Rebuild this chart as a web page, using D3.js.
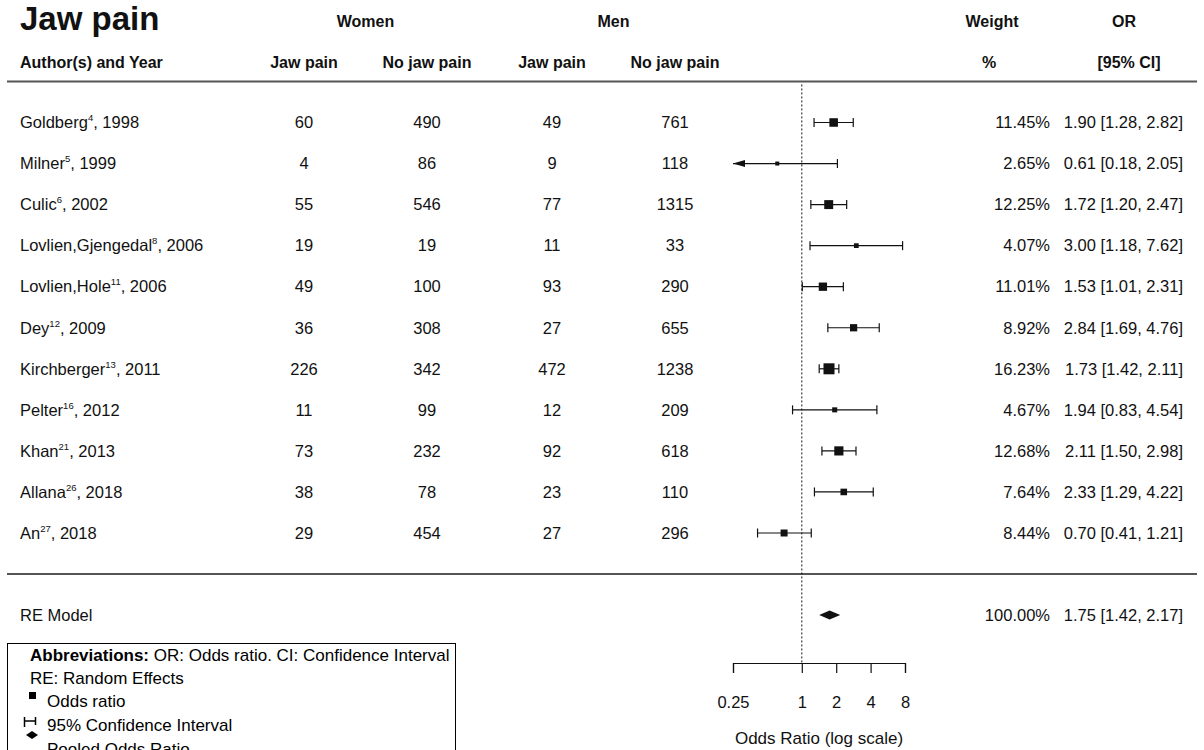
<!DOCTYPE html>
<html><head><meta charset="utf-8">
<script src="https://cdn.jsdelivr.net/npm/d3@7"></script>
<style>
body{margin:0;background:#fff;}
svg{display:block;font-family:"Liberation Sans",Arial,Helvetica,sans-serif;}
</style></head><body>
<svg id="chart" width="1204" height="750"></svg>
<script>
// ---- data ----
const authors = ["Goldberg","Milner","Culic","Lovlien,Gjengedal","Lovlien,Hole","Dey","Kirchberger","Pelter","Khan","Allana","An"];
const refs = ["4","5","6","8","11","12","13","16","21","26","27"];
const years = [1998,1999,2002,2006,2006,2009,2011,2012,2013,2018,2018];
const womenJaw = [60,4,55,19,49,36,226,11,73,38,29];
const womenNoJaw = [490,86,546,19,100,308,342,99,232,78,454];
const menJaw = [49,9,77,11,93,27,472,12,92,23,27];
const menNoJaw = [761,118,1315,33,290,655,1238,209,618,110,296];
const weights = [11.45,2.65,12.25,4.07,11.01,8.92,16.23,4.67,12.68,7.64,8.44];
const orEst = [1.90,0.61,1.72,3.00,1.53,2.84,1.73,1.94,2.11,2.33,0.70];
const orLo = [1.28,0.18,1.20,1.18,1.01,1.69,1.42,0.83,1.50,1.29,0.41];
const orHi = [2.82,2.05,2.47,7.62,2.31,4.76,2.11,4.54,2.98,4.22,1.21];
const pooledLabel = "RE Model";
const pooledWeight = 100.00;
const pooledEst = 1.75, pooledLo = 1.42, pooledHi = 2.17;
const tickValues = [0.25,1,2,4,8];
const tickLabels = ["0.25","1","2","4","8"];

// ---- layout ----
const svg = d3.select("#chart");
const ink = "#111";
const x = d3.scaleLog().base(2).domain([0.25, 8]).range([733, 905]);
const y = d3.scaleLinear().domain([0, 1]).range([122.5, 163.55]);
const sz = d3.scaleLinear().domain(d3.extent(weights)).range([4, 11]);
const fs = 16.5;
const colWJ = 304, colWN = 427, colMJ = 552, colMN = 675, colW = 1050, colOR = 1183;

// headers
svg.append("text").attr("x", 20).attr("y", 30).attr("font-size", 33).attr("font-weight", "bold").attr("fill", ink).text("Jaw pain");
const hdr = (t, xx, yy, anchor) => svg.append("text").attr("x", xx).attr("y", yy).attr("font-size", 16).attr("font-weight", "bold")
  .attr("fill", ink).attr("text-anchor", anchor || "middle").text(t);
hdr("Women", (colWJ + colWN) / 2, 27);
hdr("Men", (colMJ + colMN) / 2, 27);
hdr("Weight", 992, 27);
hdr("OR", 1124, 27);
hdr("Author(s) and Year", 20, 68, "start");
hdr("Jaw pain", colWJ, 68);
hdr("No jaw pain", colWN, 68);
hdr("Jaw pain", colMJ, 68);
hdr("No jaw pain", colMN, 68);
hdr("%", 989, 68);
hdr("[95% CI]", 1129, 68);

// separator lines
svg.append("line").attr("x1", 7).attr("x2", 1197).attr("y1", y(-1)).attr("y2", y(-1)).attr("stroke", "#555").attr("stroke-width", 2);
svg.append("line").attr("x1", 7).attr("x2", 1197).attr("y1", y(11)).attr("y2", y(11)).attr("stroke", "#555").attr("stroke-width", 2);

// reference line at OR = 1
svg.append("line").attr("x1", x(1)).attr("x2", x(1)).attr("y1", y(-1) + 3).attr("y2", 663)
  .attr("stroke", ink).attr("stroke-width", 1).attr("stroke-dasharray", "2,2");

// study rows
const rowText = (t, xx, yy, anchor) => svg.append("text").attr("x", xx).attr("y", yy).attr("dy", "0.35em")
  .attr("font-size", fs).attr("fill", ink).attr("text-anchor", anchor).text(t);

authors.forEach((a, i) => {
  const yy = y(i);
  const t = svg.append("text").attr("x", 20).attr("y", yy).attr("dy", "0.35em").attr("font-size", fs).attr("fill", ink);
  t.append("tspan").text(a);
  t.append("tspan").attr("dy", -7).attr("font-size", 9.5).text(refs[i]);
  t.append("tspan").attr("dy", 7).text(", " + years[i]);
  rowText(womenJaw[i], colWJ, yy, "middle");
  rowText(womenNoJaw[i], colWN, yy, "middle");
  rowText(menJaw[i], colMJ, yy, "middle");
  rowText(menNoJaw[i], colMN, yy, "middle");
  rowText(weights[i].toFixed(2) + "%", colW, yy, "end");
  rowText(orEst[i].toFixed(2) + " [" + orLo[i].toFixed(2) + ", " + orHi[i].toFixed(2) + "]", colOR, yy, "end");

  const [d0, d1] = x.domain();
  const lo = Math.max(orLo[i], d0), hi = Math.min(orHi[i], d1);
  const g = svg.append("g").attr("stroke", ink).attr("fill", ink);
  g.append("line").attr("x1", x(lo)).attr("x2", x(hi)).attr("y1", yy).attr("y2", yy).attr("stroke-width", 1.2);
  if (orLo[i] < d0) {
    g.append("path").attr("stroke", "none")
      .attr("d", `M${x(d0)},${yy}L${x(d0) + 12},${yy - 3.5}L${x(d0) + 12},${yy + 3.5}Z`);
  } else {
    g.append("line").attr("x1", x(lo)).attr("x2", x(lo)).attr("y1", yy - 4.5).attr("y2", yy + 4.5).attr("stroke-width", 1.2);
  }
  if (orHi[i] > d1) {
    g.append("path").attr("stroke", "none")
      .attr("d", `M${x(d1)},${yy}L${x(d1) - 12},${yy - 3.5}L${x(d1) - 12},${yy + 3.5}Z`);
  } else {
    g.append("line").attr("x1", x(hi)).attr("x2", x(hi)).attr("y1", yy - 4.5).attr("y2", yy + 4.5).attr("stroke-width", 1.2);
  }
  const s = sz(weights[i]);
  g.append("rect").attr("stroke", "none").attr("x", x(orEst[i]) - s / 2).attr("y", yy - s / 2).attr("width", s).attr("height", s);
});

// pooled row
const yp = y(12);
rowText(pooledLabel, 20, yp, "start");
rowText(pooledWeight.toFixed(2) + "%", colW, yp, "end");
rowText(pooledEst.toFixed(2) + " [" + pooledLo.toFixed(2) + ", " + pooledHi.toFixed(2) + "]", colOR, yp, "end");
svg.append("path").attr("fill", ink)
  .attr("d", `M${x(pooledLo)},${yp}L${x(pooledEst)},${yp - 4.5}L${x(pooledHi)},${yp}L${x(pooledEst)},${yp + 4.5}Z`);

// axis
const axis = d3.axisBottom(x).tickValues(tickValues).tickFormat((d, i) => tickLabels[i])
  .tickSize(10).tickSizeOuter(10).tickPadding(23);
const ag = svg.append("g").attr("transform", "translate(0,663)").call(axis);
ag.selectAll("path,line").attr("stroke", ink).attr("stroke-width", 1.2);
ag.selectAll("text").attr("font-size", fs).attr("fill", ink).attr("font-family", "Liberation Sans,Arial,sans-serif");
svg.append("text").attr("x", (x(0.25) + x(8)) / 2).attr("y", 744).attr("text-anchor", "middle")
  .attr("font-size", 17).attr("fill", ink).text("Odds Ratio (log scale)");

// legend box
const lg = svg.append("g");
lg.append("rect").attr("x", 7.5).attr("y", 643.5).attr("width", 448).attr("height", 140)
  .attr("fill", "#fff").attr("stroke", "#000").attr("stroke-width", 1);
const l1 = lg.append("text").attr("x", 30).attr("y", 661).attr("font-size", 17).attr("fill", "#000");
l1.append("tspan").attr("font-weight", "bold").text("Abbreviations:");
l1.append("tspan").text(" OR: Odds ratio. CI: Confidence Interval");
lg.append("text").attr("x", 30).attr("y", 684).attr("font-size", 17).attr("fill", "#000").text("RE: Random Effects");
lg.append("rect").attr("x", 29).attr("y", 692).attr("width", 7).attr("height", 7).attr("fill", "#000");
lg.append("text").attr("x", 47).attr("y", 707).attr("font-size", 17).attr("fill", "#000").text("Odds ratio");
lg.append("path").attr("stroke", "#000").attr("stroke-width", 1.5).attr("fill", "none")
  .attr("d", "M24.5,717V727M24.5,721H35.5M35.5,717V725");
lg.append("text").attr("x", 47).attr("y", 731).attr("font-size", 17).attr("fill", "#000").text("95% Confidence Interval");
lg.append("path").attr("fill", "#000").attr("d", "M26,735L32,731L38,735L32,739Z");
lg.append("text").attr("x", 47).attr("y", 755).attr("font-size", 17).attr("fill", "#000").text("Pooled Odds Ratio");
</script>
</body></html>
